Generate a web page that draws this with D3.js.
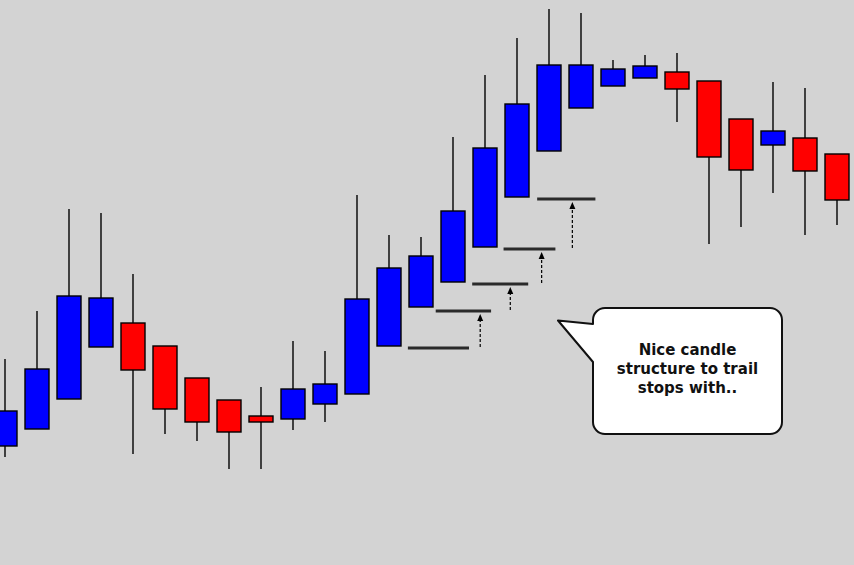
<!DOCTYPE html>
<html>
<head>
<meta charset="utf-8">
<script src="https://cdn.jsdelivr.net/npm/d3@7"></script>
<style>
  html, body { margin: 0; padding: 0; background: #d3d3d3; }
  svg { display: block; }
</style>
</head>
<body>
<div id="chart"></div>
<script>
// ---- Data (prices) ----
const opens  = [1.3119,1.3136,1.3166,1.3218,1.3242,1.3219,1.3187,1.3165,1.3149,1.3146,1.3161,1.3171,1.3219,1.3258,1.3283,1.3318,1.3368,1.3414,1.3457,1.3479,1.3487,1.3493,1.3484,1.3446,1.3420,1.3427,1.3411];
const highs  = [1.3206,1.3254,1.3356,1.3352,1.3291,1.3219,1.3187,1.3165,1.3178,1.3224,1.3214,1.3370,1.3330,1.3328,1.3428,1.3490,1.3527,1.3556,1.3552,1.3505,1.3510,1.3512,1.3484,1.3446,1.3483,1.3477,1.3411];
const lows   = [1.3108,1.3136,1.3166,1.3218,1.3111,1.3131,1.3124,1.3096,1.3096,1.3135,1.3143,1.3171,1.3219,1.3258,1.3283,1.3318,1.3368,1.3414,1.3457,1.3479,1.3487,1.3443,1.3321,1.3338,1.3372,1.3330,1.3340];
const closes = [1.3154,1.3196,1.3269,1.3267,1.3195,1.3156,1.3143,1.3133,1.3143,1.3176,1.3181,1.3266,1.3297,1.3309,1.3354,1.3417,1.3461,1.3500,1.3500,1.3496,1.3499,1.3476,1.3408,1.3395,1.3434,1.3394,1.3365];

// trailing stop levels (price) and their extent in candle-index units
const stopLevels = [1.3217, 1.3254, 1.3281, 1.3316, 1.3366];
const stopFrom   = [12.59, 13.46, 14.60, 15.58, 16.63];
const stopTo     = [14.50, 15.19, 16.35, 17.20, 18.45];
// arrows between consecutive stops (candle-index position)
const arrowAt    = [14.85, 15.79, 16.77, 17.73];

const noteLines = ["Nice candle", "structure to trail", "stops with.."];

// ---- Setup ----
const W = 854, H = 565;
const candles = opens.map((o, i) => ({ i, o, h: highs[i], l: lows[i], c: closes[i] }));

const x = d3.scaleLinear().domain([0, opens.length - 1]).range([5, 837]);
const y = d3.scaleLinear().domain([1.3000, 1.3565]).range([565, 0]);
const bodyW = 24;

const svg = d3.select("#chart").append("svg")
  .attr("width", W).attr("height", H);

svg.append("rect").attr("width", W).attr("height", H).attr("fill", "#d3d3d3");

const g = svg.append("g");

// wicks
g.selectAll("line.wick").data(candles).join("line")
  .attr("class", "wick")
  .attr("x1", d => x(d.i)).attr("x2", d => x(d.i))
  .attr("y1", d => y(d.h)).attr("y2", d => y(d.l))
  .attr("stroke", "#000").attr("stroke-width", 1.4);

// bodies
g.selectAll("rect.body").data(candles).join("rect")
  .attr("class", "body")
  .attr("x", d => x(d.i) - bodyW / 2)
  .attr("width", bodyW)
  .attr("y", d => y(Math.max(d.o, d.c)))
  .attr("height", d => Math.max(1, Math.abs(y(d.o) - y(d.c))))
  .attr("fill", d => d.c >= d.o ? "#0000ff" : "#ff0000")
  .attr("stroke", "#000").attr("stroke-width", 1.4);

// trailing stop lines
g.selectAll("line.stop").data(stopLevels).join("line")
  .attr("class", "stop")
  .attr("x1", (d, k) => x(stopFrom[k])).attr("x2", (d, k) => x(stopTo[k]))
  .attr("y1", d => y(d)).attr("y2", d => y(d))
  .attr("stroke", "#2a2a2a").attr("stroke-width", 2.8);

// arrows: dashed shaft + filled head
const arrows = arrowAt.map((a, k) => ({
  ax: x(a),
  y0: y(stopLevels[k]) - 1,
  yt: y(stopLevels[k + 1]) + 3
}));
g.selectAll("line.arrow").data(arrows).join("line")
  .attr("class", "arrow")
  .attr("x1", d => d.ax).attr("x2", d => d.ax)
  .attr("y1", d => d.y0).attr("y2", d => d.yt + 5)
  .attr("stroke", "#000").attr("stroke-width", 1.2)
  .attr("stroke-dasharray", "3,2");
g.selectAll("path.head").data(arrows).join("path")
  .attr("class", "head")
  .attr("d", d => `M${d.ax},${d.yt} L${d.ax + 3},${d.yt + 7} L${d.ax - 3},${d.yt + 7} Z`)
  .attr("fill", "#000");

// speech bubble
const bx0 = 593, by0 = 308, bx1 = 782, by1 = 434, r = 12;
const tip = [558, 320.5], tA = 324, tB = 362;
const p = d3.path();
p.moveTo(bx0 + r, by0);
p.lineTo(bx1 - r, by0);
p.arcTo(bx1, by0, bx1, by0 + r, r);
p.lineTo(bx1, by1 - r);
p.arcTo(bx1, by1, bx1 - r, by1, r);
p.lineTo(bx0 + r, by1);
p.arcTo(bx0, by1, bx0, by1 - r, r);
p.lineTo(bx0, tB);
p.lineTo(tip[0], tip[1]);
p.lineTo(bx0, tA);
p.lineTo(bx0, by0 + r);
p.arcTo(bx0, by0, bx0 + r, by0, r);
p.closePath();
svg.append("path").attr("d", p.toString())
  .attr("fill", "#fff").attr("stroke", "#111").attr("stroke-width", 2)
  .attr("stroke-linejoin", "round");

const cx = (bx0 + bx1) / 2;
svg.append("g").selectAll("text").data(noteLines).join("text")
  .attr("x", cx)
  .attr("y", (d, k) => 355 + k * 19)
  .attr("text-anchor", "middle")
  .attr("font-family", "'DejaVu Sans', sans-serif")
  .attr("font-weight", 700)
  .attr("font-size", 15)
  .attr("fill", "#111")
  .text(d => d);
</script>
</body>
</html>
